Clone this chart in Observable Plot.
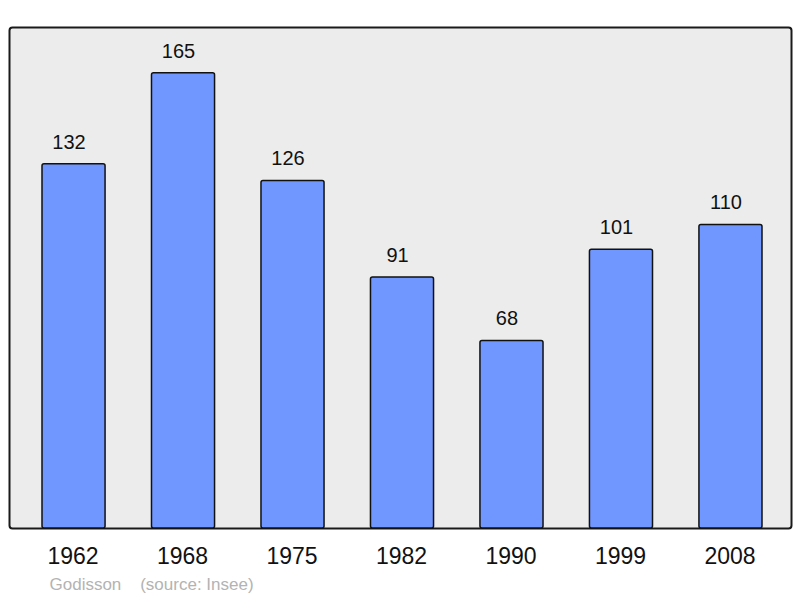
<!DOCTYPE html>
<html>
<head>
<meta charset="utf-8">
<script src="https://cdn.jsdelivr.net/npm/d3@7"></script>
<script src="https://cdn.jsdelivr.net/npm/@observablehq/plot@0.6"></script>
<style>
  html, body { margin: 0; padding: 0; background: #ffffff; }
  #chart svg { display: block; font-family: "Liberation Sans", Arial, sans-serif; }
</style>
</head>
<body>
<div id="chart"></div>
<script>
const years = ["1962", "1968", "1975", "1982", "1990", "1999", "2008"];
const population = [132, 165, 126, 91, 68, 101, 110];
const captionText = "Godisson    (source: Insee)";

const data = years.map((y, i) => ({year: y, value: population[i]}));

const chart = Plot.plot({
  width: 800,
  height: 598,
  marginTop: 27,
  marginBottom: 70,
  marginLeft: 9,
  marginRight: 9,
  style: {fontFamily: "Liberation Sans, Arial, sans-serif", background: "#ffffff", overflow: "visible"},
  x: {domain: years, range: [42, 762], paddingInner: 0.424, paddingOuter: 0, round: false},
  y: {domain: [0, 181.6], axis: null},
  marks: [
    Plot.frame({fill: "#ececec", stroke: "#1a1a1a", strokeWidth: 2, rx: 3}),
    Plot.barY(data, {x: "year", y: "value", fill: "#7096ff", stroke: "#111111", strokeWidth: 1.5, rx: 2}),
    Plot.text(data, {x: "year", y: "value", text: d => String(d.value), dx: -5, dy: -22, fontSize: 20, fill: "#111111"}),
    Plot.axisX({tickSize: 0, tickPadding: 19, dx: -1, fontSize: 23, label: null, color: "#111111"}),
    Plot.text([captionText], {frameAnchor: "bottom-left", dx: 40, dy: 61, fontSize: 17, fill: "#b3b3b3", textAnchor: "start", text: d => d})
  ]
});
document.getElementById("chart").appendChild(chart);
</script>
</body>
</html>
